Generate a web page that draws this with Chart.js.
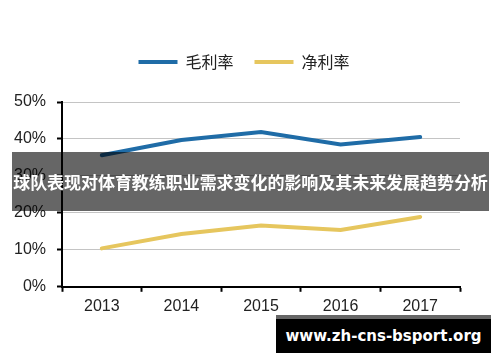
<!DOCTYPE html>
<html>
<head>
<meta charset="utf-8">
<script src="https://cdn.jsdelivr.net/npm/chart.js@4.4.1/dist/chart.umd.min.js"></script>
<style>
  body { margin: 0; background: #fff; }
  #wrap { position: relative; width: 500px; height: 362px; }
  #banner {
    position: absolute; left: 12px; top: 152px; width: 477px; height: 59px;
    background: rgba(0, 0, 0, 0.6); color: #fff;
    font: bold 17px "Noto Sans CJK SC", sans-serif; letter-spacing: -0.05px;
    display: flex; align-items: center; justify-content: center; white-space: nowrap;
  }
  #mark {
    position: absolute; left: 276px; top: 315px; width: 215px; height: 34px;
    background: #000; border-top: 4px solid #666; color: #fff;
    font: bold 15px "DejaVu Sans", sans-serif;
    display: flex; align-items: center; justify-content: center;
  }
</style>
</head>
<body>
<div id="wrap">
  <canvas id="marginChart"></canvas>
  <div id="banner">球队表现对体育教练职业需求变化的影响及其未来发展趋势分析</div>
  <div id="mark">www.zh-cns-bsport.org</div>
</div>
<script>
const years = ["2013", "2014", "2015", "2016", "2017"];
const grossMargin = [35.6, 39.7, 41.9, 38.5, 40.5];
const netMargin = [10.4, 14.3, 16.6, 15.4, 18.9];
const seriesNames = ["毛利率", "净利率"];

const blue = "#1f6ca7";
const yellow = "#e6c65e";

// nudge the legend a bit right and leave more room under it
const legendTweak = {
  id: "legendTweak",
  beforeInit(chart) {
    const fit = chart.legend.fit;
    chart.legend.fit = function () {
      fit.call(this);
      this.height += 22;
    };
  },
  afterLayout(chart) {
    chart.legend.left += 7;
    chart.legend.right += 7;
  }
};

const ctx = document.getElementById("marginChart").getContext("2d");
new Chart(ctx, {
  type: "line",
  data: {
    labels: years,
    datasets: [
      {
        label: seriesNames[0],
        data: grossMargin,
        borderColor: blue,
        backgroundColor: blue,
        borderWidth: 4,
        borderCapStyle: "round",
        pointRadius: 0,
        tension: 0,
      },
      {
        label: seriesNames[1],
        data: netMargin,
        borderColor: yellow,
        backgroundColor: yellow,
        borderWidth: 4,
        borderCapStyle: "round",
        pointRadius: 0,
        tension: 0,
      },
    ],
  },
  options: {
    responsive: true,
    maintainAspectRatio: false,
    animation: false,
    layout: {
      padding: { left: 14, right: 40, top: 33, bottom: 41 },
    },
    plugins: {
      legend: {
        position: "top",
        labels: {
          usePointStyle: true,
          pointStyle: "line",
          pointStyleWidth: 39,
          padding: 21,
          color: "#222",
          font: { family: "'Noto Sans CJK SC', sans-serif", size: 16 },
        },
      },
      tooltip: { enabled: false },
    },
    scales: {
      x: {
        offset: true,
        grid: {
          offset: true,
          drawOnChartArea: false,
          tickLength: 5,
          tickColor: "#000",
          tickWidth: 2,
        },
        border: { color: "#000", width: 2 },
        ticks: {
          padding: 5,
          color: "#222",
          font: { family: "'Liberation Sans', Arial, sans-serif", size: 16 },
        },
      },
      y: {
        min: 0,
        max: 50,
        afterFit(axis) { axis.width = 48; },
        grid: {
          color: "#c4c4c4",
          lineWidth: 1,
          tickLength: 5,
          tickColor: "#000",
          tickWidth: 2,
        },
        border: { color: "#000", width: 2 },
        ticks: {
          stepSize: 10,
          padding: 11,
          color: "#222",
          font: { family: "'Liberation Sans', Arial, sans-serif", size: 16 },
          callback: (v) => v + "%",
        },
      },
    },
  },
  plugins: [legendTweak],
});
</script>
</body>
</html>
